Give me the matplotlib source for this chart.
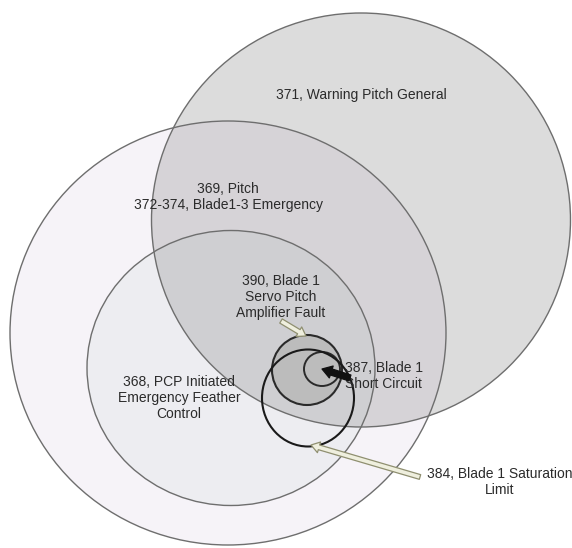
import matplotlib.pyplot as plt
from matplotlib.patches import Ellipse

plt.rcParams['font.family'] = ['Liberation Sans', 'DejaVu Sans']

# 圆的数据（像素坐标，y向下）
names = ['369', '368', '371', '390', '387', '384']
cx = [228, 231, 361, 307, 322, 308]
cy = [333, 368, 220, 370, 369, 398]
w = [436, 288, 419, 70, 36, 92]
h = [424, 275, 414, 70, 34, 97]
fills = ['#f6f3f8', '#ededf1', '#8c8c8c', '#bcbcbc', 'none', 'none']
alphas = [1.0, 1.0, 0.3, 1.0, 1.0, 1.0]
edges = ['#6e6e6e', '#6e6e6e', '#6e6e6e', '#2a2a2a', '#2a2a2a', '#1a1a1a']
lws = [1.0, 1.0, 1.0, 1.5, 1.4, 1.5]

# 文字标签
labels = ['371, Warning Pitch General',
          '369, Pitch\n372-374, Blade1-3 Emergency',
          '390, Blade 1\nServo Pitch\nAmplifier Fault',
          '387, Blade 1\nShort Circuit',
          '368, PCP Initiated\nEmergency Feather\nControl',
          '384, Blade 1 Saturation\nLimit']
lx = [361, 228, 281, 345, 179, 500]
ly = [95, 197, 297, 376, 398, 482]
lha = ['center', 'center', 'center', 'left', 'center', 'center']

# 箭头 (起点 -> 终点)
arr_from = [(281, 321), (420, 477), (350, 378)]
arr_to = [(306, 336), (311, 445), (322, 369)]
arr_fc = ['#efefde', '#efefde', '#111111']
arr_ec = ['#8f8f70', '#8f8f70', '#111111']

fig = plt.figure(figsize=(5.72, 5.48), dpi=100, facecolor='w')
ax = fig.add_axes([0, 0, 1, 1])
ax.set_xlim(0, 572)
ax.set_ylim(548, 0)
ax.axis('off')

# 先画填充
for i in range(len(names)):
    if fills[i] != 'none':
        ax.add_patch(Ellipse((cx[i], cy[i]), w[i], h[i], facecolor=fills[i],
                             alpha=alphas[i], edgecolor='none', zorder=1 + i * 0.1))
# 再画轮廓
for i in range(len(names)):
    ax.add_patch(Ellipse((cx[i], cy[i]), w[i], h[i], facecolor='none',
                         edgecolor=edges[i], lw=lws[i], zorder=3))

for i in range(len(labels)):
    ax.text(lx[i], ly[i], labels[i], ha=lha[i], va='center', multialignment=lha[i],
            fontsize=10, color='#2b2b2b', linespacing=1.2, zorder=5)

for i in range(len(arr_from)):
    if i == 2:
        style = 'simple,head_width=0.9,head_length=0.7,tail_width=0.45'
    else:
        style = 'simple,head_width=0.8,head_length=0.6,tail_width=0.35'
    ax.annotate('', xy=arr_to[i], xytext=arr_from[i],
                arrowprops=dict(arrowstyle=style, fc=arr_fc[i], ec=arr_ec[i],
                                lw=0.9, shrinkA=0, shrinkB=0), zorder=6)

plt.savefig('out.png', dpi=100)
